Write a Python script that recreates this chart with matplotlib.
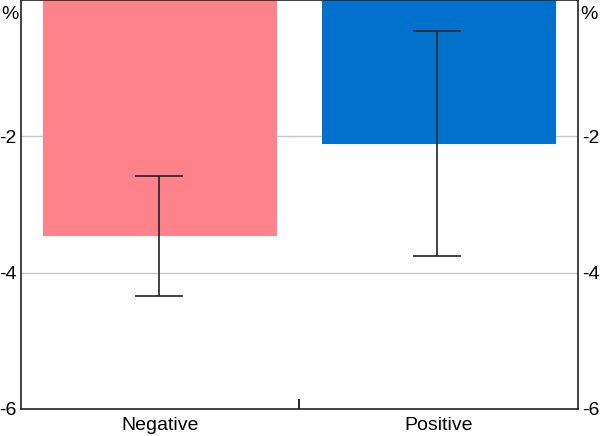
import matplotlib.pyplot as plt
import numpy as np

plt.rcParams['font.family'] = ['Liberation Sans', 'DejaVu Sans']

categories = ['Negative', 'Positive']
values = [-3.46, -2.11]
err_low = [-4.34, -3.755]
err_high = [-2.58, -0.455]
colors = ['#FF818A', '#0072CE']
yticks = [-6, -4, -2]

fig = plt.figure(figsize=(6, 4.36), dpi=100)
ax = fig.add_axes([0.035, 0.062, 0.928, 0.938])

x = np.arange(len(categories))
vals = np.array(values)
yerr = np.array([vals - np.array(err_low), np.array(err_high) - vals])

ax.bar(x, vals, width=0.84, color=colors, zorder=2)
ax.errorbar(x - 0.005, vals, yerr=yerr, fmt='none', ecolor='#222222',
            elinewidth=1.2, capsize=17, capthick=1.2, zorder=3)

ax.set_xlim(-0.5, 1.5)
ax.set_ylim(-6, 0)
ax.set_yticks(yticks)
ax.set_yticklabels([str(t) for t in yticks])
ax.yaxis.grid(True, color='#C8C8C8', linewidth=1, zorder=1)
ax.tick_params(axis='y', length=0, pad=3, labelsize=14,
               labelleft=True, labelright=True, left=False, right=False)

ax.set_xticks(x)
ax.set_xticklabels(categories, fontsize=14)
ax.tick_params(axis='x', length=0, pad=6)
ax.set_xticks([0.5], minor=True)
ax.tick_params(axis='x', which='minor', direction='in', length=7, width=1.2)

for s in ax.spines.values():
    s.set_linewidth(1.2)
    s.set_color('#222222')

ax.text(-0.004, 0.985, '%', transform=ax.transAxes, ha='right', va='top', fontsize=14)
ax.text(1.004, 0.985, '%', transform=ax.transAxes, ha='left', va='top', fontsize=14)

fig.savefig('out.png', dpi=100)
